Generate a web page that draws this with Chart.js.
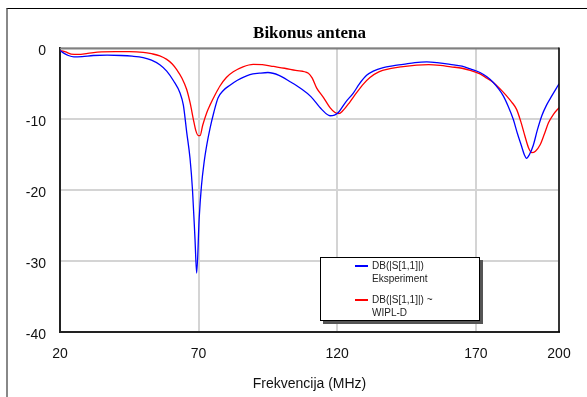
<!DOCTYPE html>
<html>
<head>
<meta charset="utf-8">
<script src="https://cdn.jsdelivr.net/npm/chart.js@4.4.1/dist/chart.umd.min.js"></script>
<style>
  html, body { margin: 0; padding: 0; background: #fff; }
  #wrap { position: relative; width: 587px; height: 397px; overflow: hidden; }
  #frame { position: absolute; left: 6px; top: 8px; width: 700px; height: 500px;
           border-left: 2px solid #888; border-top: 1px solid #000; }
  canvas { position: absolute; left: 0; top: 0; }
  #legend { position: absolute; left: 320px; top: 257px; width: 158px; height: 62px;
            background: #fff; border: 1px solid #000; box-shadow: 3px 3px 0 #555;
            font: 10px 'Liberation Sans', Arial, sans-serif; color: #222; }
  .item { position: absolute; left: 51px; line-height: 13px; }
  .swatch { position: absolute; left: -17px; top: 6px; width: 13px; height: 2px; }
</style>
</head>
<body>
<div id="wrap">
  <div id="frame"></div>
  <canvas id="chart" width="587" height="397"></canvas>
  <div id="legend">
    <div class="item" style="top:1px"><div class="swatch" style="background:#0000ff"></div>DB(|S[1,1]|)<br>Eksperiment</div>
    <div class="item" style="top:35px"><div class="swatch" style="background:#ff0000"></div>DB(|S[1,1]|) ~<br>WIPL-D</div>
  </div>
</div>
<script>
const xTicks = [20, 70, 120, 170, 200];

// measured curve (blue)
const freqExp = [20, 21.5, 23, 25, 28, 32, 37, 42, 46, 50, 53, 56, 58.5, 61, 63.3, 64.5, 65.7, 66.9, 67.8, 68.7, 69.3,
  70.2, 71, 72, 73, 74.1, 75.5, 77, 79, 81.3, 84, 88.5, 92, 95, 99, 103, 107, 110.5, 114.4, 117.4, 119, 120.4,
  123, 125.8, 128, 130.6, 133, 136.6, 140, 143.8, 148, 152.3, 156, 160.7, 165, 168, 171.5, 174, 176.3, 178,
  179.9, 181.7, 183.5, 185, 186.5, 187.5, 188.3, 189.3, 190.7, 192.2, 193.8, 195.5, 197.4, 200];
const dbExp = [-0.3, -0.7, -1.0, -1.2, -1.15, -1.0, -0.95, -1.0, -1.1, -1.3, -1.65, -2.3, -3.2, -4.6, -6.3, -8.0, -11.8, -15.5, -20, -26.9, -31.7,
  -24, -19.5, -16, -13.5, -11.3, -9, -7.0, -5.9, -5.2, -4.5, -3.7, -3.5, -3.4, -3.8, -4.7, -5.7, -6.8, -8.6, -9.5, -9.4, -9.05,
  -7.6, -6.3, -5.0, -3.8, -3.2, -2.7, -2.45, -2.25, -2.0, -1.9, -2.0, -2.25, -2.5, -2.9, -3.4, -4.0, -4.8, -5.6,
  -6.7, -8.2, -10, -12, -13.8, -15, -15.5, -15, -13.7, -11.5, -9.5, -8.0, -6.7, -5.0];

// simulated curve (red)
const freqSim = [20, 22, 24, 26.6, 30, 35, 40, 45, 50, 53, 56, 58.5, 60.5, 62.1, 64, 65.7, 67, 68.1, 69, 69.9, 70.5,
  71.5, 72.9, 74.1, 76, 77.7, 80, 82.5, 86, 89.7, 93, 97, 101, 105, 109.6, 111, 112.6, 115, 117.4, 119.2, 120.6,
  122, 124.5, 127, 129.5, 131.8, 135, 139, 143, 148.7, 153, 157.1, 161, 165, 168, 171.5, 174, 176.3, 178.5,
  181.1, 183, 184.7, 186.2, 187.7, 189, 190.2, 191.5, 193.2, 194.8, 196.2, 198, 200];
const dbSim = [-0.3, -0.5, -0.8, -0.85, -0.7, -0.5, -0.45, -0.45, -0.55, -0.75, -1.05, -1.55, -2.2, -3.0, -4.2, -5.8, -7.8, -10, -11.6, -12.3, -12.3,
  -10.8, -9.1, -8.0, -6.5, -5.3, -4.1, -3.3, -2.6, -2.25, -2.3, -2.55, -2.8, -3.1, -3.5, -4.2, -5.6, -6.9, -8.35, -9.05, -9.2,
  -8.8, -7.6, -6.25, -5.0, -4.1, -3.3, -2.86, -2.6, -2.35, -2.3, -2.4, -2.6, -2.8, -3.1, -3.6, -4.2, -4.8, -5.6,
  -6.7, -7.6, -8.6, -10.3, -12.35, -14.0, -14.7, -14.5, -13.6, -12, -10.5, -9.3, -8.35];

const toPoints = (xs, ys) => xs.map((x, i) => ({ x: x, y: ys[i] }));

const frameBox = {
  id: 'frameBox',
  afterDraw(chart) {
    const a = chart.chartArea, ctx = chart.ctx;
    ctx.save();
    ctx.strokeStyle = '#808080';
    ctx.lineWidth = 2;
    ctx.beginPath(); ctx.moveTo(a.left, a.top); ctx.lineTo(a.right, a.top); ctx.stroke();
    ctx.strokeStyle = '#000';
    ctx.lineWidth = 1.5;
    ctx.beginPath(); ctx.moveTo(a.right, a.top - 1); ctx.lineTo(a.right, a.bottom); ctx.stroke();
    ctx.restore();
  }
};

new Chart(document.getElementById('chart'), {
  type: 'line',
  data: {
    datasets: [{
      label: 'DB(|S[1,1]|) Eksperiment',
      data: toPoints(freqExp, dbExp),
      borderColor: '#0000ff',
      borderWidth: 1.3,
      pointRadius: 0,
      cubicInterpolationMode: 'monotone'
    }, {
      label: 'DB(|S[1,1]|) ~ WIPL-D',
      data: toPoints(freqSim, dbSim),
      borderColor: '#ff0000',
      borderWidth: 1.3,
      pointRadius: 0,
      cubicInterpolationMode: 'monotone'
    }]
  },
  options: {
    responsive: false,
    animation: false,
    layout: { padding: { left: 0, right: 28, top: 0, bottom: 0 } },
    plugins: {
      legend: { display: false },
      tooltip: { enabled: false },
      title: {
        display: true,
        text: 'Bikonus antena',
        fullSize: false,
        color: '#000',
        font: { family: "'Liberation Serif', 'Times New Roman', serif", size: 17, weight: 'bold' },
        padding: { top: 23, bottom: 5 }
      }
    },
    scales: {
      x: {
        type: 'linear',
        min: 20,
        max: 200,
        afterBuildTicks: s => { s.ticks = xTicks.map(v => ({ value: v })); },
        afterFit: s => { s.height = 65; },
        grid: { color: '#d4d4d4', lineWidth: 2, drawTicks: false },
        border: { color: '#222', width: 2 },
        ticks: { color: '#111', padding: 14, maxRotation: 0,
                 font: { family: "'Liberation Sans', Arial, sans-serif", size: 14 } },
        title: { display: true, text: 'Frekvencija (MHz)', color: '#111', padding: { top: 7 },
                 font: { family: "'Liberation Sans', Arial, sans-serif", size: 14 } }
      },
      y: {
        min: -40,
        max: 0,
        afterFit: s => { s.width = 60; },
        grid: { color: '#d4d4d4', lineWidth: 2, drawTicks: false },
        border: { color: '#222', width: 2 },
        ticks: { stepSize: 10, color: '#111', padding: 14, labelOffset: 3,
                 font: { family: "'Liberation Sans', Arial, sans-serif", size: 14 } }
      }
    }
  },
  plugins: [frameBox]
});
</script>
</body>
</html>
